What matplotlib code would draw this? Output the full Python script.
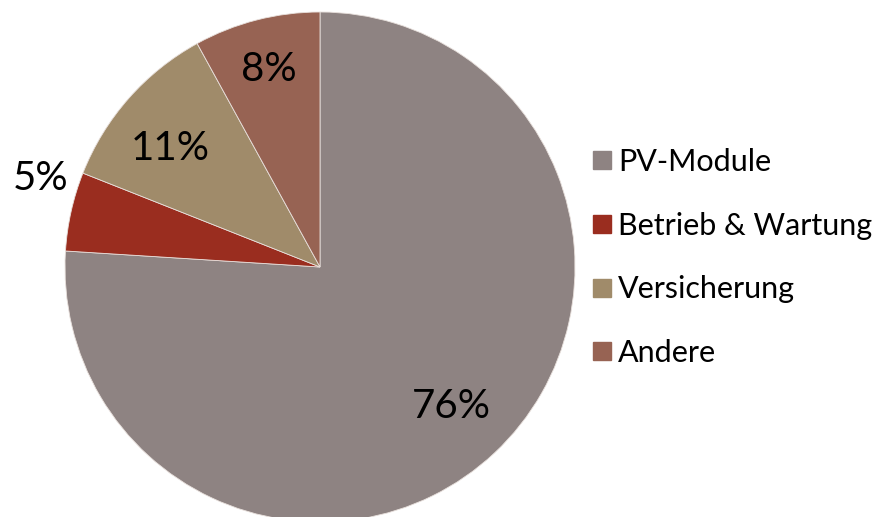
import numpy as np
import matplotlib.pyplot as plt
from matplotlib.lines import Line2D

labels = ['PV-Module', 'Betrieb & Wartung', 'Versicherung', 'Andere']
values = [76, 5, 11, 8]
colors = ['#8E8382', '#9A2D1F', '#A08B6A', '#976353']

plt.rcParams['font.family'] = ['Lato', 'DejaVu Sans']

fig = plt.figure(figsize=(8.86, 5.17), dpi=100)
ax = fig.add_axes([65 / 886, -5 / 517, 510 / 886, 510 / 517])

wedges, _ = ax.pie(values, colors=colors, startangle=90, counterclock=False,
                   radius=1, wedgeprops=dict(edgecolor='#e8e0dc', linewidth=0.6))
ax.set_xlim(-1, 1)
ax.set_ylim(-1, 1)

# label radius / angle shift per slice (5% sits outside like in the original)
lab_r = [0.75, 1.15, 0.75, 0.80]
lab_shift = [0, -5, 3, 0]
for w, v, r, s in zip(wedges, values, lab_r, lab_shift):
    ang = np.deg2rad((w.theta1 + w.theta2) / 2 + s)
    ax.text(r * np.cos(ang), r * np.sin(ang), f'{v}%', ha='center', va='center',
            fontsize=29, color='black')

handles = [Line2D([], [], marker='s', linestyle='', markersize=13, color=c) for c in colors]
fig.legend(handles, labels, loc='center left', bbox_to_anchor=(574 / 886, 0.502),
           frameon=False, fontsize=22, handletextpad=0.05, labelspacing=1.17,
           handlelength=1.0, borderaxespad=0)

fig.savefig('out.png', dpi=100)
